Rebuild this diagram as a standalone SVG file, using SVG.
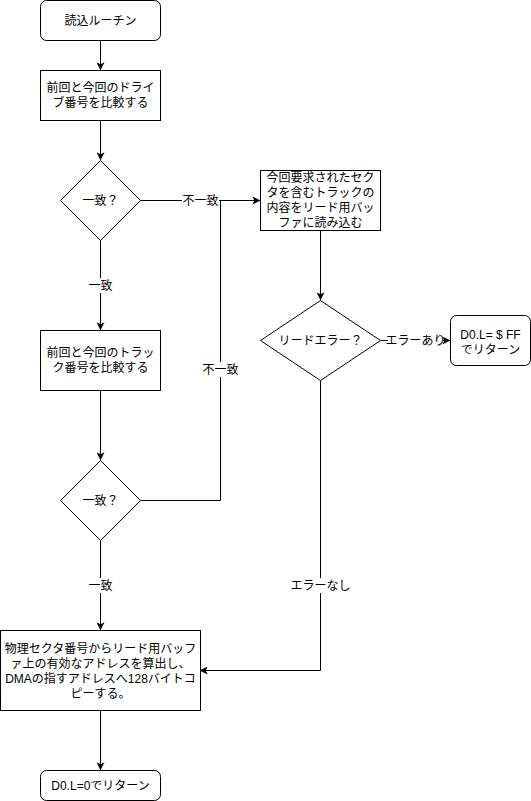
<svg xmlns="http://www.w3.org/2000/svg" width="531" height="801" viewBox="0 0 531 801">
<style>
.n{fill:#fff;stroke:#000;stroke-width:1}
.t{font-family:"Liberation Sans","Noto Sans CJK JP",sans-serif;font-size:12px;fill:#000;text-anchor:middle}
.e{fill:none;stroke:#000;stroke-width:1}
.lb{fill:#fff}
</style>
<defs>
<marker id="a" viewBox="0 0 10 10" refX="9" refY="5" markerWidth="8" markerHeight="8" markerUnits="userSpaceOnUse" orient="auto">
<path d="M0,0 L10,5 L0,10 L2.5,5 Z" fill="#000"/>
</marker>
</defs>
<g id="edges">
<path class="e" d="M100.5,40.5 V69.5" marker-end="url(#a)"/>
<path class="e" d="M100.5,120.5 V159.5" marker-end="url(#a)"/>
<path class="e" d="M140.5,200.5 H259.5" marker-end="url(#a)"/>
<path class="e" d="M100.5,240.5 V329.5" marker-end="url(#a)"/>
<path class="e" d="M100.5,390.5 V459.5" marker-end="url(#a)"/>
<path class="e" d="M140.5,500.5 H220.5 V200.5"/>
<path class="e" d="M320.5,230.5 V299.5" marker-end="url(#a)"/>
<path class="e" d="M380.5,340.5 H449.5" marker-end="url(#a)"/>
<path class="e" d="M320.5,380.5 V670.5 H200.5" marker-end="url(#a)"/>
<path class="e" d="M100.5,540.5 V629.5" marker-end="url(#a)"/>
<path class="e" d="M100.5,710.5 V769.5" marker-end="url(#a)"/>
<rect class="lb" x="88" y="278" width="25" height="15"/>
<text class="t" x="100.5" y="289.5">一致</text>
<rect class="lb" x="182" y="193" width="37" height="15"/>
<text class="t" x="200.5" y="204.5">不一致</text>
<rect class="lb" x="202" y="362" width="37" height="15"/>
<text class="t" x="220.5" y="373.5">不一致</text>
<rect class="lb" x="388" y="333" width="55" height="15"/>
<text class="t" x="415.5" y="344.5">エラーあり</text>
<rect class="lb" x="292" y="578" width="57" height="15"/>
<text class="t" x="320.5" y="589.5">エラーなし</text>
<rect class="lb" x="88" y="578" width="25" height="15"/>
<text class="t" x="100.5" y="589.5">一致</text>
</g>
<g id="start">
<rect class="n" x="40.5" y="0.5" width="120" height="40" rx="6"/>
<text class="t" x="100.5" y="24.5">読込ルーチン</text>
</g>
<g id="cmpDrive">
<rect class="n" x="40.5" y="70.5" width="120" height="50"/>
<text class="t" x="100.5" y="92">前回と今回のドライ</text>
<text class="t" x="100.5" y="107">ブ番号を比較する</text>
</g>
<g id="dec1">
<path class="n" d="M100.5,160.5 L140.5,200.5 L100.5,240.5 L60.5,200.5 Z"/>
<text class="t" x="100.5" y="204.5">一致？</text>
</g>
<g id="readTrack">
<rect class="n" x="260.5" y="170.5" width="120" height="60"/>
<text class="t" x="320.5" y="182">今回要求されたセク</text>
<text class="t" x="320.5" y="197">タを含むトラックの</text>
<text class="t" x="320.5" y="212">内容をリード用バッ</text>
<text class="t" x="320.5" y="227">ファに読み込む</text>
</g>
<g id="dec3">
<path class="n" d="M320.5,300.5 L380.5,340.5 L320.5,380.5 L260.5,340.5 Z"/>
<text class="t" x="320.5" y="344.5">リードエラー？</text>
</g>
<g id="retFF">
<rect class="n" x="450.5" y="315.5" width="80" height="50" rx="6"/>
<text class="t" x="490.5" y="339">D0.L= $ FF</text>
<text class="t" x="490.5" y="354">でリターン</text>
</g>
<g id="cmpTrack">
<rect class="n" x="40.5" y="330.5" width="120" height="60"/>
<text class="t" x="100.5" y="357">前回と今回のトラッ</text>
<text class="t" x="100.5" y="372">ク番号を比較する</text>
</g>
<g id="dec2">
<path class="n" d="M100.5,460.5 L140.5,500.5 L100.5,540.5 L60.5,500.5 Z"/>
<text class="t" x="100.5" y="504.5">一致？</text>
</g>
<g id="copy">
<rect class="n" x="0.5" y="630.5" width="200" height="80"/>
<text class="t" x="100.5" y="653">物理セクタ番号からリード用バッフ</text>
<text class="t" x="100.5" y="668">ァ上の有効なアドレスを算出し、</text>
<text class="t" x="100.5" y="683">DMAの指すアドレスへ128バイトコ</text>
<text class="t" x="100.5" y="698">ピーする。</text>
</g>
<g id="ret0">
<rect class="n" x="40.5" y="770.5" width="120" height="30" rx="6"/>
<text class="t" x="100.5" y="789.5">D0.L=0でリターン</text>
</g>
</svg>
